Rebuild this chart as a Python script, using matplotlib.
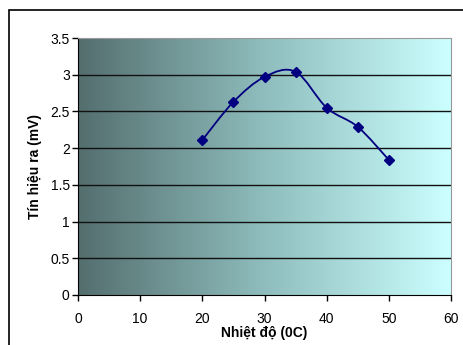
import numpy as np
import matplotlib.pyplot as plt
from matplotlib.path import Path
from matplotlib.patches import PathPatch, Rectangle
from matplotlib.colors import LinearSegmentedColormap

# nhiet do (0C) va tin hieu ra (mV)
temp = [20, 25, 30, 35, 40, 45, 50]
signal = [2.11, 2.63, 2.97, 3.04, 2.55, 2.29, 1.84]
xticks = [0, 10, 20, 30, 40, 50, 60]
yticks = [0, 0.5, 1, 1.5, 2, 2.5, 3, 3.5]
ytick_labels = ['0', '0.5', '1', '1.5', '2', '2.5', '3', '3.5']

fig = plt.figure(figsize=(4.64, 3.45), dpi=100)
fig.patches.append(Rectangle((9 / 464, -0.1), 1.2, (345 - 10) / 345 + 0.1,
                             transform=fig.transFigure, fill=False,
                             edgecolor='black', linewidth=1.2))
ax = fig.add_axes([78 / 464, 50 / 345, 373 / 464, 257 / 345])

# nen chuyen mau kieu Excel
grad = np.linspace(0, 1, 256).reshape(1, -1)
cmap = LinearSegmentedColormap.from_list('bg', ['#546e6e', '#8fbdbd', '#ccffff'])
ax.imshow(grad, cmap=cmap, aspect='auto', extent=[0, 1, 0, 1],
          transform=ax.transAxes, zorder=0)

for y in yticks[1:-1]:
    ax.axhline(y, color='#111111', linewidth=1, zorder=1)

# duong cong tron (Bezier) qua cac diem
x = np.array(temp, float)
y = np.array(signal, float)
verts = [(x[0], y[0])]
codes = [Path.MOVETO]
t = 1 / 6
for i in range(len(x) - 1):
    x0, y0 = (x[i - 1], y[i - 1]) if i > 0 else (x[i], y[i])
    x3, y3 = (x[i + 2], y[i + 2]) if i + 2 < len(x) else (x[i + 1], y[i + 1])
    c1 = (x[i] + (x[i + 1] - x0) * t, y[i] + (y[i + 1] - y0) * t)
    c2 = (x[i + 1] - (x3 - x[i]) * t, y[i + 1] - (y3 - y[i]) * t)
    verts += [c1, c2, (x[i + 1], y[i + 1])]
    codes += [Path.CURVE4] * 3
ax.add_patch(PathPatch(Path(verts, codes), fill=False, edgecolor='#000080',
                       linewidth=1.3, zorder=3))
ax.plot(temp, signal, linestyle='none', marker='D', markersize=5,
        color='#000080', zorder=4)

ax.set_xlim(0, 60)
ax.set_ylim(0, 3.5)
ax.set_xticks(xticks)
ax.set_yticks(yticks)
ax.set_yticklabels(ytick_labels)
ax.tick_params(direction='out', length=4, width=1, labelsize=10,
               colors='black', pad=2)
ax.tick_params(axis='x', pad=8)
for side in ['left', 'bottom']:
    ax.spines[side].set_color('black')
for side in ['top', 'right']:
    ax.spines[side].set_color('#999999')
ax.set_xlabel('Nhiệt độ (0C)', fontsize=10, fontweight='bold',
              family='Liberation Sans', labelpad=0)
ax.set_ylabel('Tín hiệu ra (mV)', fontsize=10, fontweight='bold',
              family='Liberation Sans', labelpad=6)
for lab in ax.get_xticklabels() + ax.get_yticklabels():
    lab.set_family('Liberation Sans')

fig.savefig('out.png', dpi=100)
